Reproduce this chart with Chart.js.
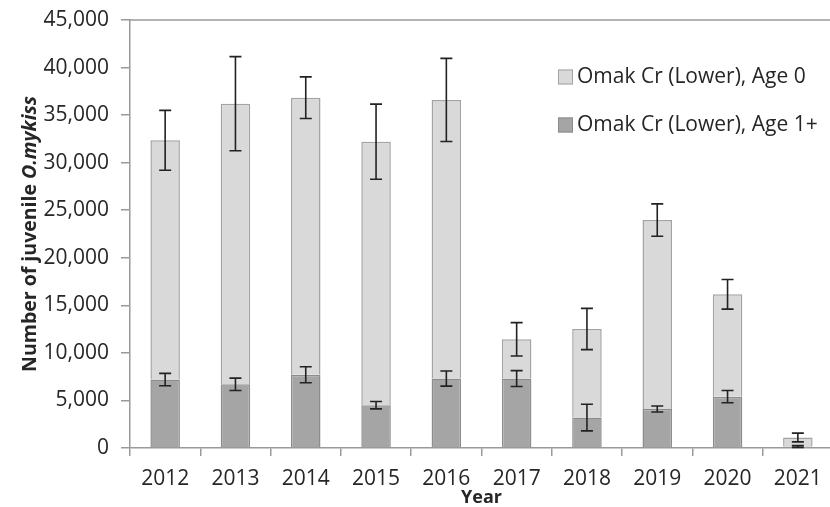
<!DOCTYPE html>
<html>
<head>
<meta charset="utf-8">
<script src="https://cdn.jsdelivr.net/npm/chart.js@4/dist/chart.umd.min.js"></script>
<style>
  html, body { margin: 0; padding: 0; background: #fff; overflow: hidden; }
  #wrap { width: 840px; height: 507px; }
</style>
</head>
<body>
<div id="wrap"><canvas id="chart" width="840" height="507"></canvas></div>
<script>
const years = ["2012", "2013", "2014", "2015", "2016", "2017", "2018", "2019", "2020", "2021"];
const age1 = [7200, 6700, 7700, 4500, 7300, 7300, 3200, 4100, 5400, 150];
const age1Err = [650, 650, 840, 390, 790, 840, 1400, 320, 650, 100];
const age0 = [25150, 29500, 29130, 27700, 29290, 4130, 9310, 19870, 10760, 950];
const age0Err = [3150, 4950, 2190, 3950, 4370, 1750, 2170, 1700, 1560, 460];
const yTicks = [0, 5000, 10000, 15000, 20000, 25000, 30000, 35000, 40000, 45000];

const FONT = "'Open Sans', sans-serif";
const AXIS = "#9a9a9a";
const TEXT = "#262626";

// error bars drawn at top of each stacked segment
const errorBars = {
    id: "errorBars",
    afterDatasetsDraw(chart) {
        const ctx = chart.ctx;
        const y = chart.scales.y;
        ctx.save();
        ctx.strokeStyle = "#222";
        ctx.lineWidth = 1.6;
        chart.data.datasets.forEach((ds, di) => {
            const meta = chart.getDatasetMeta(di);
            meta.data.forEach((bar, i) => {
                let base = 0;
                for (let k = 0; k < di; k++) base += chart.data.datasets[k].data[i];
                const top = base + ds.data[i];
                const err = ds.err[i];
                const x = bar.x;
                const y1 = y.getPixelForValue(top + err);
                const y2 = y.getPixelForValue(Math.max(top - err, 0));
                ctx.beginPath();
                ctx.moveTo(x, y1); ctx.lineTo(x, y2);
                ctx.moveTo(x - 6, y1); ctx.lineTo(x + 6, y1);
                ctx.moveTo(x - 6, y2); ctx.lineTo(x + 6, y2);
                ctx.stroke();
            });
        });
        ctx.restore();
    }
};

// frame, axis titles and legend
const decorations = {
    id: "decorations",
    afterDraw(chart) {
        const ctx = chart.ctx;
        const a = chart.chartArea;
        ctx.save();
        ctx.strokeStyle = AXIS;
        ctx.lineWidth = 1.5;
        ctx.beginPath();
        ctx.moveTo(a.left, a.top); ctx.lineTo(a.right, a.top); ctx.lineTo(a.right, a.bottom);
        ctx.stroke();

        // y title
        ctx.fillStyle = TEXT;
        ctx.textBaseline = "middle";
        ctx.translate(30, (a.top + a.bottom) / 2);
        ctx.rotate(-Math.PI / 2);
        const p1 = "Number of juvenile ";
        const p2 = "O.mykiss";
        ctx.font = "bold 19.5px " + FONT;
        const w1 = ctx.measureText(p1).width;
        ctx.font = "italic bold 19.5px " + FONT;
        const w2 = ctx.measureText(p2).width;
        ctx.textAlign = "left";
        ctx.font = "bold 19.5px " + FONT;
        ctx.fillText(p1, -(w1 + w2) / 2, 0);
        ctx.font = "italic bold 19.5px " + FONT;
        ctx.fillText(p2, -(w1 + w2) / 2 + w1, 0);
        ctx.setTransform(1, 0, 0, 1, 0, 0);

        // x title
        ctx.font = "bold 18px " + FONT;
        ctx.textAlign = "center";
        ctx.fillText("Year", (a.left + a.right) / 2, 498);

        // legend
        ctx.font = "21px " + FONT;
        ctx.textAlign = "left";
        const rows = [chart.data.datasets[1], chart.data.datasets[0]];
        rows.forEach((ds, i) => {
            const cy = 77 + i * 48;
            ctx.fillStyle = ds.backgroundColor;
            ctx.fillRect(558, cy - 7.5, 15, 15);
            ctx.strokeStyle = ds.borderColor;
            ctx.lineWidth = 1;
            ctx.strokeRect(558.5, cy - 7, 14, 14);
            ctx.fillStyle = TEXT;
            ctx.fillText(ds.label, 577, cy);
        });
        ctx.restore();
    }
};

new Chart(document.getElementById("chart"), {
    type: "bar",
    data: {
        labels: years,
        datasets: [
            {
                label: "Omak Cr (Lower), Age 1+",
                data: age1,
                err: age1Err,
                backgroundColor: "#a5a5a5",
                borderColor: "#8c8c8c",
                borderWidth: 1.5
            },
            {
                label: "Omak Cr (Lower), Age 0",
                data: age0,
                err: age0Err,
                backgroundColor: "#d9d9d9",
                borderColor: "#a3a3a3",
                borderWidth: 1.5
            }
        ]
    },
    options: {
        responsive: false,
        animation: false,
        events: [],
        layout: { padding: { top: 20, right: 7, left: 0, bottom: 0 } },
        datasets: { bar: { barPercentage: 0.42, categoryPercentage: 1 } },
        plugins: { legend: { display: false }, tooltip: { enabled: false } },
        scales: {
            x: {
                stacked: true,
                border: { color: AXIS, width: 1.5 },
                grid: { drawOnChartArea: false, drawTicks: true, tickLength: 8, color: AXIS, lineWidth: 1.5 },
                ticks: { color: TEXT, font: { family: FONT, size: 21 }, padding: 10, maxRotation: 0 },
                afterFit: s => { s.height = 59; }
            },
            y: {
                stacked: true,
                min: 0,
                max: 45000,
                border: { color: AXIS, width: 1.5 },
                grid: { drawOnChartArea: false, drawTicks: true, tickLength: 9, color: AXIS, lineWidth: 1.5 },
                afterBuildTicks: s => { s.ticks = yTicks.map(v => ({ value: v })); },
                ticks: {
                    color: TEXT,
                    font: { family: FONT, size: 21 },
                    padding: 12,
                    callback: v => v.toLocaleString("en-US")
                },
                afterFit: s => { s.width = 130; s.paddingTop = 0; s.paddingBottom = 0; }
            }
        }
    },
    plugins: [errorBars, decorations]
});
</script>
</body>
</html>
